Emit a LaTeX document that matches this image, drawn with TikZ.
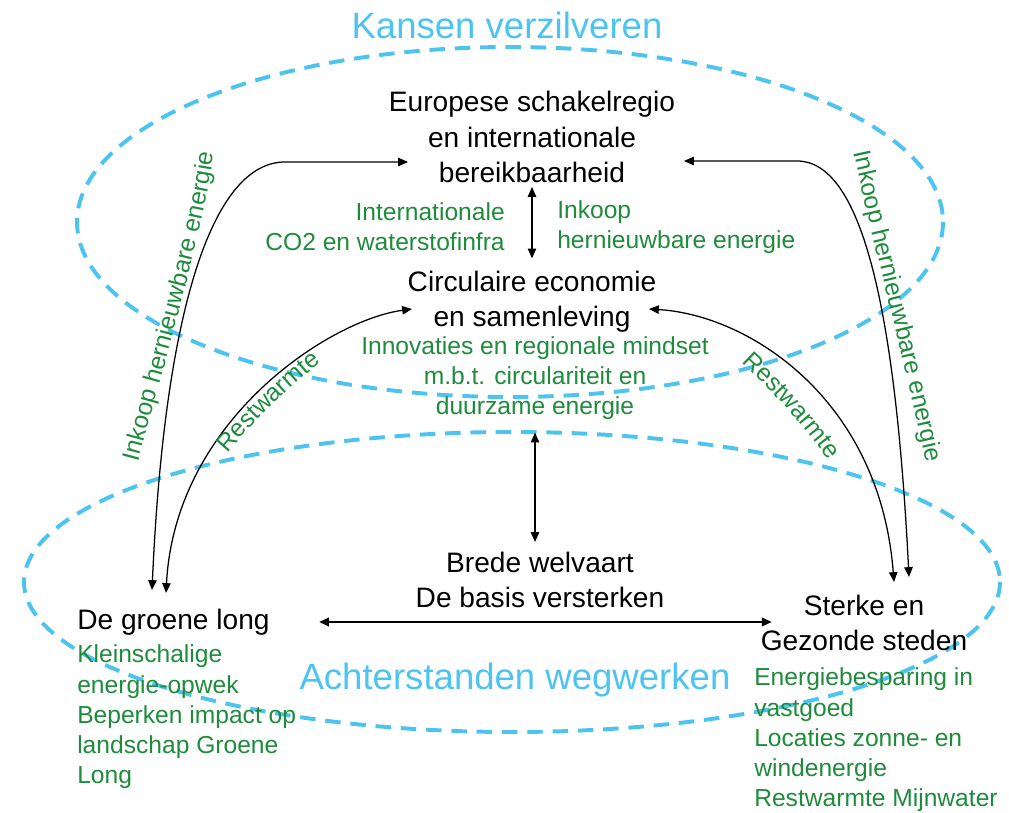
\documentclass[tikz,border=0pt]{standalone}
\usepackage{fontspec}
\setmainfont{Liberation Sans}
\usetikzlibrary{positioning,arrows.meta,decorations.text}
\definecolor{zoneblue}{RGB}{77,196,240}
\definecolor{textgreen}{RGB}{30,140,60}
\newcommand\boogfont{\fontsize{17.5}{21}\selectfont}

\begin{document}
\begin{tikzpicture}[x=0.025cm,y=-0.025cm,
		hoofd/.style={text=black,font=\fontsize{20}{25}\selectfont,align=center,inner sep=0pt},
		groen/.style={text=textgreen,font=\fontsize{17.5}{21.5}\selectfont,inner sep=0pt},
		boog/.style={decorate,decoration={text along path,text align=center,text color=textgreen,text={|\boogfont|#1}}},
		zone/.style={draw=zoneblue,line width=2.8pt,dash pattern=on 11pt off 7pt},
		zonetitel/.style={text=zoneblue,font=\fontsize{26}{30}\selectfont,inner sep=0pt},
		pijl/.style={line width=0.9pt,{Triangle[length=7pt,width=6pt]}-{Triangle[length=7pt,width=6pt]}}]
		
		\useasboundingbox (0,0) rectangle (1009,813);
		
		% de twee zones
		\draw[zone] (510,222) ellipse [x radius=433, y radius=175];
		\draw[zone] (512,582) ellipse [x radius=488, y radius=150];
		\node[zonetitel] (kansen) at (507,25) {Kansen verzilveren};
		\node[zonetitel] (achter) at (515,680) {Achterstanden wegwerken};
		
		% thema's
		\node[hoofd] (euro) at (532,137) {Europese schakelregio\\en internationale\\bereikbaarheid};
		\node[groen,align=right,anchor=east] (infra) at (505,227) {Internationale\\CO2 en waterstofinfra};
		\node[groen,align=left,anchor=west] (inkoop) at (557,227) {Inkoop\\hernieuwbare energie};
		\node[hoofd] (circ) at (532,302) {Circulaire economie\\en samenleving};
		\node[groen,align=center] (innov) at (535,378) {Innovaties en regionale mindset\\m.b.t. circulariteit en\\duurzame energie};
		\node[hoofd] (brede) at (540,580) {Brede welvaart\\De basis versterken};
		\node[hoofd,anchor=west] (long) at (77,622) {De groene long};
		\node[groen,align=left,anchor=west] (longtekst) at (77,717) {Kleinschalige\\energie-opwek\\Beperken impact op\\landschap Groene\\Long};
		\node[hoofd] (steden) at (864,623) {Sterke en\\Gezonde steden};
		\node[groen,align=left,anchor=west] (stedentekst) at (754,740) {Energiebesparing in\\vastgoed\\Locaties zonne- en\\windenergie\\Restwarmte Mijnwater};
		
		% eindpunten van de bogen
		\coordinate (euro-links) at (408,162);
		\coordinate (euro-rechts) at (684,161);
		\coordinate (circ-links) at (412,309);
		\coordinate (circ-rechts) at (649,309);
		\coordinate (long-a) at (152,590);
		\coordinate (long-b) at (166,593);
		\coordinate (steden-a) at (894,582);
		\coordinate (steden-b) at (909,577);
		
		% verbindingen
		\draw[pijl] ([yshift=-3pt]euro.south) -- ([yshift=9pt]circ.north);
		\draw[pijl] ([yshift=-9pt]innov.south) -- ([yshift=7pt]innov.south |- brede.north);
		\draw[pijl,line width=1.4pt,shorten <=35pt,shorten >=-8pt] (long.east) -- (long.east -| steden.west);
		\draw[pijl] (euro-links) -- (285,162) .. controls (215,162) and (165,300) .. (long-a);
		\draw[pijl] (euro-rechts) -- (797,161) .. controls (860,161) and (895,300) .. (steden-b);
		\draw[pijl] (circ-links) .. controls (330,320) and (175,420) .. (long-b);
		\draw[pijl] (circ-rechts) .. controls (750,315) and (880,400) .. (steden-a);
		
		% labels langs de bogen
		\path[boog=Inkoop hernieuwbare energie] (132,485) .. controls (165,360) and (206,230) .. (217,130);
		\path[boog=Inkoop hernieuwbare energie] (850,135) .. controls (872,240) and (905,360) .. (930,480);
		\path[boog=Restwarmte] (217,465) .. controls (252,423) and (292,383) .. (334,353);
		\path[boog=Restwarmte] (733,354) .. controls (770,388) and (805,425) .. (836,470);
\end{tikzpicture}
\end{document}
